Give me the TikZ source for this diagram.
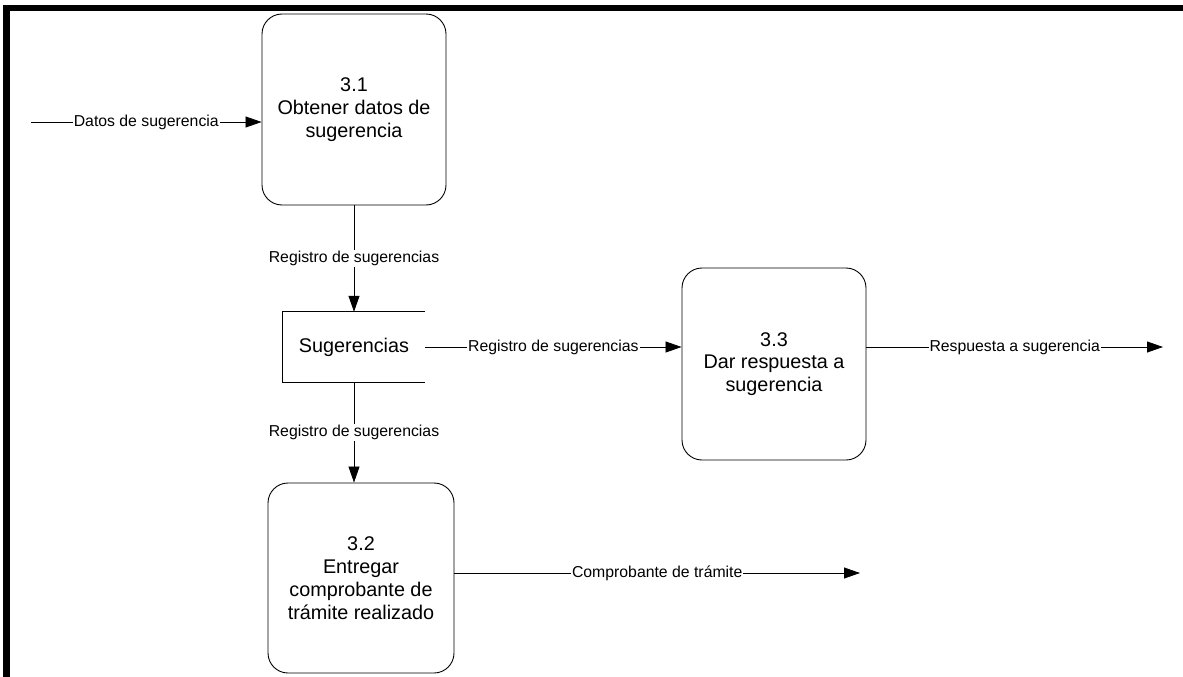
\documentclass[tikz,border=0pt]{standalone}
\usepackage{fontspec}
\setmainfont{Liberation Sans}
\usetikzlibrary{arrows.meta}

\tikzset{
  proc/.style={draw, line width=0.9pt, rounded corners=20pt, align=center,
    font=\fontsize{19.8}{22.8}\selectfont, inner sep=0pt},
  storetext/.style={font=\fontsize{19.8}{22.8}\selectfont, inner sep=0pt,
    minimum width=142pt, minimum height=70pt},
  flow/.style={line width=0.8pt, -{Triangle[length=16pt,width=11pt]}},
  lbl/.style={fill=white, inner sep=1pt, font=\fontsize{15.8}{18}\selectfont}
}

\begin{document}
\begin{tikzpicture}[x=1pt,y=-1pt]
  \useasboundingbox (0,0) rectangle (1183,677);

  % page frame: heavy bars along the top and the left side
  \fill (3,5) rectangle (1183,11);
  \fill (3,5) rectangle (10,677);

  % processes
  \node[proc, minimum width=184pt, minimum height=191pt] (p31) at (354,109.5)
    {3.1\\Obtener datos de\\sugerencia};
  \node[proc, minimum width=184pt, minimum height=192pt] (p33) at (774,364)
    {3.3\\Dar respuesta a\\sugerencia};
  \node[proc, minimum width=186pt, minimum height=190pt] (p32) at (361,578)
    {3.2\\Entregar\\comprobante de\\trámite realizado};

  % data store, open on the right
  \node[storetext] (store) at (354,347) {Sugerencias};
  \draw[line width=0.9pt] (store.north east) -- (store.north west)
    -- (store.south west) -- (store.south east);

  % free ends of the external flows
  \coordinate (src) at (31,122);
  \coordinate (out1) at (1163,347);
  \coordinate (out2) at (860,573);

  % data flows
  \draw[flow] (src) -- (p31.west |- src)
    node[midway, lbl] {Datos de sugerencia};
  \draw[flow] (p31.south) -- (store.north)
    node[midway, lbl] {Registro de sugerencias};
  \draw[flow] (store.east) -- (p33.west |- store.east)
    node[midway, lbl] {Registro de sugerencias};
  \draw[flow] (p33.east |- out1) -- (out1)
    node[midway, lbl] {Respuesta a sugerencia};
  \draw[flow] (store.south) -- (store.south |- p32.north)
    node[midway, lbl] {Registro de sugerencias};
  \draw[flow] (p32.east |- out2) -- (out2)
    node[midway, lbl] {Comprobante de trámite};
\end{tikzpicture}
\end{document}
